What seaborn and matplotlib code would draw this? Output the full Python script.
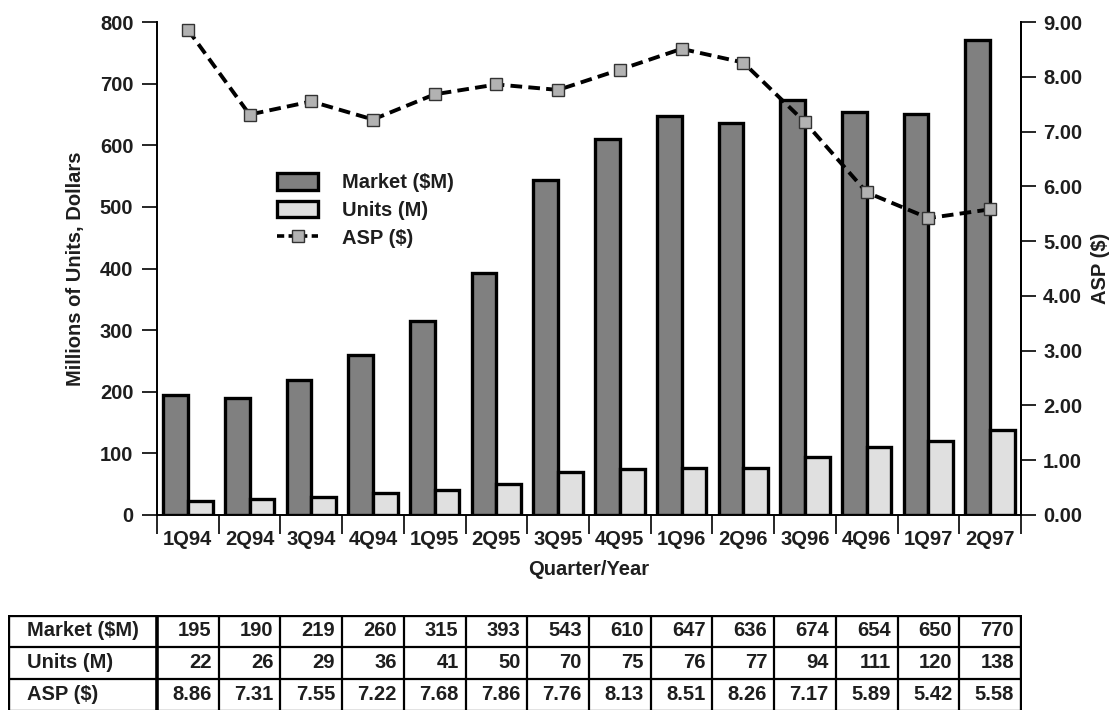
import numpy as np
import pandas as pd
import matplotlib
matplotlib.use("Agg")
import matplotlib.pyplot as plt
from matplotlib import font_manager
from matplotlib.patches import Patch
from matplotlib.lines import Line2D
import seaborn as sns

quarters = ["1Q94", "2Q94", "3Q94", "4Q94", "1Q95", "2Q95", "3Q95",
            "4Q95", "1Q96", "2Q96", "3Q96", "4Q96", "1Q97", "2Q97"]
market = [195, 190, 219, 260, 315, 393, 543, 610, 647, 636, 674, 654, 650, 770]
units = [22, 26, 29, 36, 41, 50, 70, 75, 76, 77, 94, 111, 120, 138]
asp = [8.86, 7.31, 7.55, 7.22, 7.68, 7.86, 7.76, 8.13, 8.51, 8.26, 7.17, 5.89, 5.42, 5.58]

series_names = ["Market ($M)", "Units (M)", "ASP ($)"]
bar_colors = ["#808080", "#e0e0e0"]
txt = "#1e1e1e"


def pick_bold_family(candidates):
    # first family whose bold face resolves to an actual bold font file
    for fam in candidates:
        try:
            path = font_manager.findfont(
                font_manager.FontProperties(family=fam, weight="bold"),
                fallback_to_default=False)
        except Exception:
            continue
        if "bold" in path.lower():
            return fam
    return "DejaVu Sans"


sns.set_theme(style="white")
family = pick_bold_family(["Liberation Sans", "Arimo", "Roboto", "Open Sans", "Lato"])
plt.rcParams["font.family"] = [family, "DejaVu Sans"]
plt.rcParams["font.weight"] = "bold"
plt.rcParams["axes.labelweight"] = "bold"

TICK_FS = 14.5
LABEL_FS = 14.5

W, H = 1115, 710
fig = plt.figure(figsize=(W / 100, H / 100), dpi=100)

# main chart area, in pixel terms
x0, x1, ytop, ybot = 157, 1021, 22, 515
ax = fig.add_axes([x0 / W, 1 - ybot / H, (x1 - x0) / W, (ybot - ytop) / H])

df = pd.DataFrame({
    "Quarter": quarters * 2,
    "Series": [series_names[0]] * len(quarters) + [series_names[1]] * len(quarters),
    "Value": market + units,
})
sns.barplot(data=df, x="Quarter", y="Value", hue="Series", order=quarters,
            hue_order=series_names[:2], palette=bar_colors, width=0.8,
            edgecolor="black", linewidth=2.4, saturation=1, ax=ax, legend=False)

n = len(quarters)
ax.set_xlim(-0.5, n - 0.5)
ax.set_ylim(0, 800)
ax.set_yticks(range(0, 801, 100))
ax.set_yticklabels([str(v) for v in range(0, 801, 100)], fontsize=TICK_FS,
                   fontweight="bold", color=txt)
ax.set_xticks(np.arange(n))
ax.set_xticklabels(quarters, fontsize=TICK_FS, fontweight="bold", color=txt)
ax.tick_params(axis="x", length=0, pad=11)
ax.tick_params(axis="y", direction="out", length=11, width=1.4, pad=6, left=True)
# boundary tick marks between categories
ax.set_xticks(np.arange(-0.5, n, 1.0), minor=True)
ax.tick_params(axis="x", which="minor", direction="out", length=14, width=1.4,
               bottom=True)
ax.spines["top"].set_visible(False)
for side in ["left", "right", "bottom"]:
    ax.spines[side].set_visible(True)
    ax.spines[side].set_color("black")
    ax.spines[side].set_linewidth(1.4)
ax.set_xlabel("Quarter/Year", fontsize=LABEL_FS, fontweight="bold", color=txt,
              labelpad=8)
ax.set_ylabel("Millions of Units, Dollars", fontsize=LABEL_FS, fontweight="bold",
              color=txt, labelpad=11)

# ASP on the secondary axis
ax2 = ax.twinx()
sns.lineplot(x=np.arange(n), y=asp, ax=ax2, color="black", linewidth=2.8,
             linestyle=(0, (3.0, 1.6)), marker="s", markersize=8,
             markerfacecolor="#b2b2b2", markeredgecolor="#333333",
             markeredgewidth=1.0)
ax2.set_ylim(0, 9)
ax2.set_yticks(np.arange(0, 9.01, 1))
ax2.set_yticklabels([f"{v:.2f}" for v in np.arange(0, 9.01, 1)], fontsize=TICK_FS,
                    fontweight="bold", color=txt)
ax2.tick_params(axis="y", direction="out", length=11, width=1.4, pad=5, right=True)
for side in ["top", "left", "bottom"]:
    ax2.spines[side].set_visible(False)
ax2.spines["right"].set_color("black")
ax2.spines["right"].set_linewidth(1.4)
ax2.set_ylabel("ASP ($)", fontsize=LABEL_FS, fontweight="bold", color=txt,
               labelpad=6)

# legend
handles = [
    Patch(facecolor=bar_colors[0], edgecolor="black", linewidth=2.4),
    Patch(facecolor=bar_colors[1], edgecolor="black", linewidth=2.4),
    Line2D([0], [0], color="black", linewidth=2.6, linestyle=(0, (2.0, 1.2)),
           marker="s", markersize=8, markerfacecolor="#b2b2b2",
           markeredgecolor="#333333", markeredgewidth=1.0),
]
leg = ax2.legend(handles, series_names, loc="upper left",
                 bbox_to_anchor=((277 - x0) / (x1 - x0), 1 - (173 - ytop) / (ybot - ytop)),
                 frameon=False, prop={"size": TICK_FS, "weight": "bold"},
                 handlelength=2.05, handleheight=0.9, handletextpad=1.2,
                 labelspacing=0.42, borderaxespad=0, borderpad=0)
for t in leg.get_texts():
    t.set_color(txt)

# data table below the chart
tx0, tx1, ty0, ty1 = 8, 1022, 615, 713
tax = fig.add_axes([tx0 / W, 1 - ty1 / H, (tx1 - tx0) / W, (ty1 - ty0) / H])
unit = (x1 - x0) / n
left_lim = -0.5 - (x0 - tx0) / unit
tax.set_xlim(left_lim, -0.5 + (tx1 - x0) / unit)
row_h = 32
tax.set_ylim((ty1 - ty0) / row_h, 0)
tax.axis("off")

rows = [
    (series_names[0], [str(v) for v in market]),
    (series_names[1], [str(v) for v in units]),
    (series_names[2], [f"{v:.2f}" for v in asp]),
]
for r, (label, vals) in enumerate(rows):
    tax.text(left_lim + 19 / unit, r + 0.5, label, ha="left", va="center",
             fontsize=TICK_FS, fontweight="bold", color=txt)
    for i, v in enumerate(vals):
        tax.text(i + 0.5 - 7 / unit, r + 0.5, v, ha="right", va="center",
                 fontsize=TICK_FS, fontweight="bold", color=txt)
# grid lines
for r in range(0, 4):
    tax.plot([left_lim, n - 0.5], [r, r], color="black",
             linewidth=2.4 if r == 0 else 1.6, solid_capstyle="projecting")
tax.plot([left_lim, left_lim], [0, 4], color="black", linewidth=2.4)
tax.plot([n - 0.5, n - 0.5], [0, 4], color="black", linewidth=2.4)
tax.plot([-0.5, -0.5], [0, 4], color="black", linewidth=2.6)
for i in range(1, n):
    tax.plot([i - 0.5, i - 0.5], [0, 4], color="black", linewidth=1.6)

fig.savefig("out.png", dpi=100)
